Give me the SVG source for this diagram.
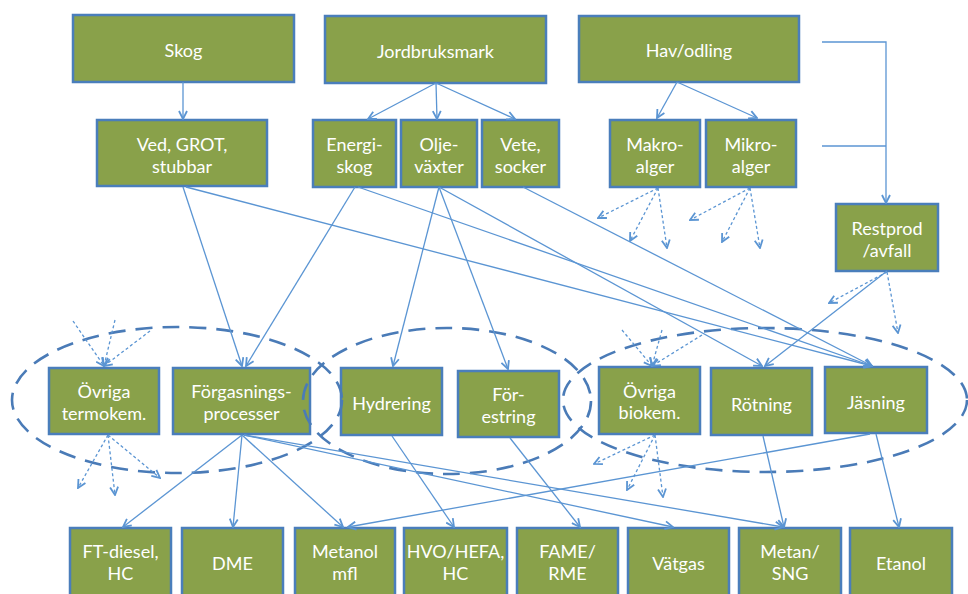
<svg xmlns="http://www.w3.org/2000/svg" width="968" height="594" viewBox="0 0 968 594">
<style>
.b{fill:#89a14a;stroke:#4a7ebb;stroke-width:2.5}
.t{fill:#ffffff;font-family:Lato,"Liberation Sans",sans-serif;font-size:18px;text-anchor:middle}
.c{stroke:#5b95d3;stroke-width:1.3;fill:none}
.d{stroke:#5b95d3;stroke-width:1.3;fill:none;stroke-dasharray:3 2.5}
.e{stroke:#4a7bb7;stroke-width:2.6;fill:none;stroke-dasharray:17 10}
</style>
<defs>
<marker id="a" viewBox="0 0 10 10" refX="9" refY="5" markerWidth="10" markerHeight="10" markerUnits="userSpaceOnUse" orient="auto">
<path d="M1,1 L9,5 L1,9" fill="none" stroke="#5b95d3" stroke-width="1.8"/>
</marker>
</defs>
<rect width="968" height="594" fill="#ffffff"/>

<g id="skog"><rect class="b" x="73" y="15" width="221" height="67"/><text class="t" x="183.5" y="57">Skog</text></g>
<g id="jordbruksmark"><rect class="b" x="325" y="16" width="221" height="67"/><text class="t" x="435.5" y="58">Jordbruksmark</text></g>
<g id="havodling"><rect class="b" x="579" y="16" width="220" height="66"/><text class="t" x="689" y="57">Hav/odling</text></g>

<g id="ved"><rect class="b" x="97" y="120" width="170" height="66"/><text class="t" x="182" y="151">Ved, GROT,</text><text class="t" x="182" y="173">stubbar</text></g>
<g id="energiskog"><rect class="b" x="313" y="120" width="83" height="67"/><text class="t" x="354.5" y="151">Energi-</text><text class="t" x="354.5" y="173">skog</text></g>
<g id="oljevaxter"><rect class="b" x="401" y="120" width="76" height="67"/><text class="t" x="439" y="151">Olje-</text><text class="t" x="439" y="173">växter</text></g>
<g id="vete"><rect class="b" x="482" y="120" width="77" height="67"/><text class="t" x="520.5" y="151">Vete,</text><text class="t" x="520.5" y="173">socker</text></g>
<g id="makroalger"><rect class="b" x="610" y="120" width="90" height="67"/><text class="t" x="655" y="151">Makro-</text><text class="t" x="655" y="173">alger</text></g>
<g id="mikroalger"><rect class="b" x="706" y="120" width="90" height="67"/><text class="t" x="751" y="151">Mikro-</text><text class="t" x="751" y="173">alger</text></g>
<g id="restprod"><rect class="b" x="836" y="204" width="102" height="67"/><text class="t" x="887" y="235">Restprod</text><text class="t" x="887" y="257">/avfall</text></g>

<g id="ovriga-termokem"><rect class="b" x="49" y="368" width="110" height="66"/><text class="t" x="104" y="398">Övriga</text><text class="t" x="104" y="420">termokem.</text></g>
<g id="forgasning"><rect class="b" x="173" y="368" width="137" height="66"/><text class="t" x="241.5" y="398">Förgasnings-</text><text class="t" x="241.5" y="420">processer</text></g>
<g id="hydrering"><rect class="b" x="341" y="368" width="101" height="67"/><text class="t" x="391.5" y="410">Hydrering</text></g>
<g id="forestring"><rect class="b" x="458" y="371" width="101" height="66"/><text class="t" x="508.5" y="401">För-</text><text class="t" x="508.5" y="423">estring</text></g>
<g id="ovriga-biokem"><rect class="b" x="599" y="367" width="101" height="67"/><text class="t" x="649.5" y="398">Övriga</text><text class="t" x="649.5" y="419">biokem.</text></g>
<g id="rotning"><rect class="b" x="711" y="368" width="101" height="67"/><text class="t" x="761.5" y="411">Rötning</text></g>
<g id="jasning"><rect class="b" x="825" y="367" width="102" height="66"/><text class="t" x="876" y="409">Jäsning</text></g>

<g id="ftdiesel"><rect class="b" x="70" y="528" width="101" height="68"/><text class="t" x="120.5" y="558">FT-diesel,</text><text class="t" x="120.5" y="580">HC</text></g>
<g id="dme"><rect class="b" x="182" y="528" width="101" height="68"/><text class="t" x="232.5" y="570">DME</text></g>
<g id="metanol"><rect class="b" x="295" y="528" width="100" height="68"/><text class="t" x="345" y="558">Metanol</text><text class="t" x="345" y="580">mfl</text></g>
<g id="hvo"><rect class="b" x="404" y="528" width="103" height="68"/><text class="t" x="455.5" y="558">HVO/HEFA,</text><text class="t" x="455.5" y="580">HC</text></g>
<g id="fame"><rect class="b" x="517" y="528" width="101" height="68"/><text class="t" x="567.5" y="558">FAME/</text><text class="t" x="567.5" y="580">RME</text></g>
<g id="vatgas"><rect class="b" x="628" y="528" width="101" height="68"/><text class="t" x="678.5" y="570">Vätgas</text></g>
<g id="metan"><rect class="b" x="739" y="528" width="102" height="68"/><text class="t" x="790" y="558">Metan/</text><text class="t" x="790" y="580">SNG</text></g>
<g id="etanol"><rect class="b" x="850" y="528" width="102" height="68"/><text class="t" x="901" y="570">Etanol</text></g>

<g id="groups">
<ellipse class="e" cx="177" cy="400" rx="165" ry="73"/>
<ellipse class="e" cx="447" cy="401" rx="144" ry="73"/>
<ellipse class="e" cx="765" cy="400" rx="202" ry="72"/>
</g>

<g id="connectors" marker-end="url(#a)">
<line class="c" x1="183" y1="82" x2="183" y2="119"/>
<line class="c" x1="436" y1="83" x2="368" y2="119"/>
<line class="c" x1="436" y1="83" x2="437" y2="119"/>
<line class="c" x1="436" y1="83" x2="515" y2="119"/>
<line class="c" x1="677" y1="82" x2="657" y2="118"/>
<line class="c" x1="677" y1="82" x2="757" y2="118"/>
<polyline class="c" points="822,42 886,42 886,203"/>
<line class="c" x1="822" y1="146" x2="886" y2="146" marker-end="none"/>
<line class="c" x1="183" y1="187" x2="242" y2="366"/>
<line class="c" x1="186" y1="187" x2="872" y2="366"/>
<line class="c" x1="355" y1="187" x2="246" y2="366"/>
<line class="c" x1="358" y1="187" x2="872" y2="366"/>
<line class="c" x1="439" y1="187" x2="393" y2="366"/>
<line class="c" x1="439" y1="187" x2="508" y2="369"/>
<line class="c" x1="439" y1="187" x2="762" y2="366"/>
<line class="c" x1="523" y1="187" x2="872" y2="366"/>
<line class="c" x1="887" y1="271" x2="765" y2="366"/>
<line class="c" x1="242" y1="435" x2="123" y2="527"/>
<line class="c" x1="242" y1="435" x2="233" y2="527"/>
<line class="c" x1="242" y1="435" x2="343" y2="527"/>
<line class="c" x1="244" y1="435" x2="673" y2="527"/>
<line class="c" x1="244" y1="435" x2="783" y2="527"/>
<line class="c" x1="392" y1="436" x2="454" y2="527"/>
<line class="c" x1="510" y1="438" x2="580" y2="527"/>
<line class="c" x1="763" y1="436" x2="784" y2="527"/>
<line class="c" x1="870" y1="434" x2="348" y2="527"/>
<line class="c" x1="876" y1="434" x2="899" y2="527"/>

<line class="d" x1="658" y1="188" x2="598" y2="218"/>
<line class="d" x1="658" y1="188" x2="630" y2="241"/>
<line class="d" x1="658" y1="188" x2="667" y2="248"/>
<line class="d" x1="750" y1="188" x2="690" y2="220"/>
<line class="d" x1="750" y1="188" x2="722" y2="242"/>
<line class="d" x1="750" y1="188" x2="760" y2="248"/>
<line class="d" x1="887" y1="272" x2="829" y2="303"/>
<line class="d" x1="887" y1="272" x2="898" y2="333"/>
<line class="d" x1="73" y1="321" x2="104" y2="366"/>
<line class="d" x1="115" y1="320" x2="104" y2="366"/>
<line class="d" x1="150" y1="331" x2="104" y2="366"/>
<line class="d" x1="108" y1="435" x2="78" y2="488"/>
<line class="d" x1="108" y1="435" x2="115" y2="495"/>
<line class="d" x1="108" y1="435" x2="160" y2="478"/>
<line class="d" x1="622" y1="330" x2="652" y2="366"/>
<line class="d" x1="662" y1="330" x2="652" y2="366"/>
<line class="d" x1="702" y1="335" x2="652" y2="366"/>
<line class="d" x1="655" y1="435" x2="594" y2="464"/>
<line class="d" x1="655" y1="435" x2="627" y2="490"/>
<line class="d" x1="655" y1="435" x2="663" y2="497"/>
</g>
</svg>
